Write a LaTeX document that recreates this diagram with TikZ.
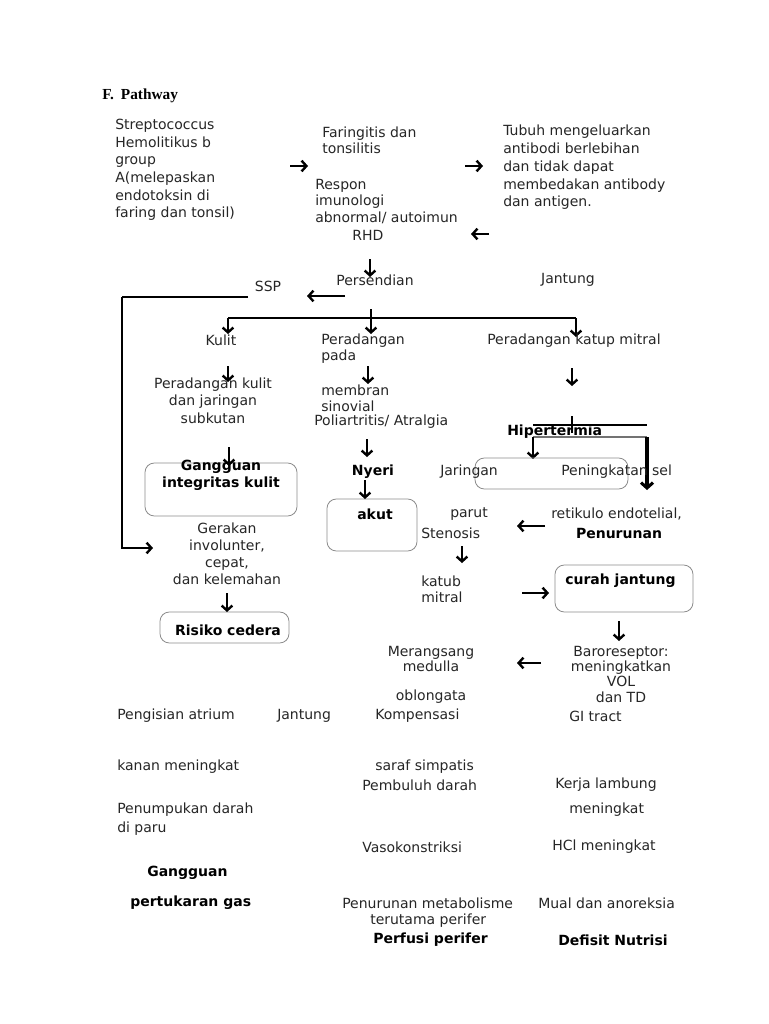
\documentclass[tikz,border=0pt]{standalone}
\usepackage{fontspec}
\setmainfont{DejaVu Sans}
\newfontfamily\titlefont{Liberation Serif}
\usetikzlibrary{arrows.meta}
\begin{document}
\begin{tikzpicture}[x=0.75pt,y=-0.75pt,
  txt/.style={inner sep=0pt, font=\fontsize{10.5}{13}\selectfont, text=black!85},
  lsp/.style={font=\fontsize{10.5}{#1}\selectfont},
  bld/.style={inner sep=0pt, text=black, font=\fontsize{10.5}{#1}\selectfont\bfseries},
  bld/.default=13,
  arr/.style={line width=1.8pt, -{Straight Barb[length=3.6pt,width=8pt]}},
  thk/.style={line width=2pt},
  rbox/.style={draw=black!45, line width=0.6pt, rounded corners=7pt, inner sep=0pt}
]
\useasboundingbox[fill=white] (0,0) rectangle (768,1024);

% title
\node[inner sep=0pt, anchor=west, font=\fontsize{11.5}{14}\selectfont\titlefont\bfseries] (title) at (102,96) {F.\hspace{0.45em}Pathway};

% top row
\node[txt, lsp=13.2, align=left, anchor=west] (strep) at (115,170) {Streptococcus\\Hemolitikus b\\group\\A(melepaskan\\endotoksin di\\faring dan tonsil)};
\node[txt, lsp=12, align=left, anchor=west] (far) at (322,140) {Faringitis dan\\tonsilitis};
\node[txt, lsp=13.3, align=left, anchor=west] (tubuh) at (503,167.5) {Tubuh mengeluarkan\\antibodi berlebihan\\dan tidak dapat\\membedakan antibody\\dan antigen.};
\node[txt, lsp=12.4, align=left, anchor=west] (respon) at (315,201.5) {Respon\\imunologi\\abnormal/ autoimun};
\node[txt] (rhd) at (368,235) {RHD};

\coordinate (a1s) at (290,166); \coordinate (a1e) at (308,166);
\draw[arr] (a1s) -- (a1e);
\coordinate (a2s) at (465,166); \coordinate (a2e) at (483,166);
\draw[arr] (a2s) -- (a2e);
\coordinate (a3s) at (489,234); \coordinate (a3e) at (471,234);
\draw[arr] (a3s) -- (a3e);

% second level
\node[txt] (pers) at (375,280) {Persendian};
\node[txt] (jant1) at (568,280) {Jantung};
\node[txt] (ssp) at (268,286) {SSP};
\coordinate (a4s) at (370,259); \coordinate (a4e) at (370,277);
\draw[arr] (a4s) -- (a4e);
\coordinate (a5s) at (345,296); \coordinate (a5e) at (307,296);
\draw[arr] (a5s) -- (a5e);

% SSP long line
\coordinate (s1) at (248,297); \coordinate (s2) at (122,297);
\coordinate (s3) at (122,548); \coordinate (s4) at (153,548);
\draw[line width=2.2pt] (s1) -- (s2);
\draw[line width=2.2pt] (s2) -- (s3) -- ++(8,0);
\draw[arr] (122,548) -- (s4);

% branch
\coordinate (bl) at (228,318); \coordinate (br) at (576,318);
\coordinate (bm) at (371,309);
\draw[thk] (bl) -- (br);
\draw[arr] (bm) -- (371,334);
\draw[arr] (bl) -- (228,334);
\draw[arr] (br) -- (576,337);

\node[txt] (kulit) at (221,340) {Kulit};
\node[txt, lsp=12, align=left, anchor=west] (pp) at (321,349) {Peradangan\\pada};
\node[txt, anchor=west] (pkm) at (487,341) {Peradangan katup mitral};

\draw[arr] (228,366) -- (228,382);
\draw[arr] (368,366) -- (368,384);
\draw[arr] (572,368) -- (572,386);

\node[txt, lsp=13.1, align=center] (pk) at (213,400.5) {Peradangan kulit\\dan jaringan\\subkutan};
\node[txt, lsp=12, align=left, anchor=west] (mem) at (321,398) {membran\\sinovial};
\node[txt, anchor=west] (poli) at (314,422) {Poliartritis/ Atralgia};

% Hipertermia
\node[bld, anchor=west] (hip) at (507,432) {Hipertermia};
\draw[line width=1.3pt] (533,425) -- (647,425);
\draw[line width=1pt] (572,416) -- (572,433);
\draw[line width=1.6pt, black!55] (533,437) -- (647,437);
\draw[arr] (533,437) -- (533,459);
\draw[line width=2.3pt, -{Straight Barb[length=4pt,width=9pt]}] (647,437) -- (647,490);

% boxes
\node[rbox, minimum width=152*0.75pt, minimum height=53*0.75pt] (bgi) at (221,489.5) {};
\node[rbox, minimum width=90*0.75pt, minimum height=52*0.75pt] (bak) at (372,525) {};
\node[rbox, minimum width=153*0.75pt, minimum height=31*0.75pt] (bjr) at (551.5,473.5) {};
\node[rbox, minimum width=129*0.75pt, minimum height=31*0.75pt] (brc) at (224.5,627.5) {};
\node[rbox, minimum width=138*0.75pt, minimum height=47*0.75pt] (bcj) at (624,588.5) {};

\draw[arr] (229,447) -- (229,466);
\node[bld=12.75, align=center] (ggi) at (221,475.5) {Gangguan\\integritas kulit};

\draw[arr] (367,439) -- (367,457);
\node[bld] (nyeri) at (373,472) {Nyeri};
\draw[arr] (365,480) -- (365,499);
\node[bld] (akut) at (375,514) {akut};

\node[txt, anchor=west] (jar) at (440,472) {Jaringan};
\node[txt, anchor=west] (pen) at (561,472) {Peningkatan sel};

\node[txt, anchor=west] (parut) at (450,514) {parut};
\node[txt, anchor=west] (sten) at (421,533) {Stenosis};
\node[txt, anchor=west] (ret) at (551,514) {retikulo endotelial,};
\node[bld] (penur) at (619,533) {Penurunan};
\draw[arr] (545,526) -- (517,526);

\draw[arr] (462,546) -- (462,563);
\node[txt, lsp=12, align=left, anchor=west] (katub) at (421,589) {katub\\mitral};
\draw[arr] (522,593) -- (549,593);
\node[bld, anchor=west] (curah) at (565,581) {curah jantung};
\draw[arr] (619,621) -- (619,641);

\node[txt, lsp=12.75, align=center] (ger) at (227,553.5) {Gerakan\\involunter,\\cepat,\\dan kelemahan};
\draw[arr] (227,593) -- (227,612);
\node[bld] (ris) at (228,630) {Risiko cedera};

\node[txt, lsp=11.25, align=center] (mer) at (431,658.5) {Merangsang\\medulla};
\node[txt] (obl) at (431,697) {oblongata};
\draw[arr] (541,663) -- (517,663);
\node[txt, lsp=11.5, align=center] (baro) at (621,674) {Baroreseptor:\\meningkatkan\\VOL\\dan TD};

% bottom section
\node[txt, anchor=west] (peng) at (117,716) {Pengisian atrium};
\node[txt, anchor=west] (jant2) at (277,716) {Jantung};
\node[txt, anchor=west] (komp) at (375,716) {Kompensasi};
\node[txt, anchor=west] (gi) at (569,716) {GI tract};
\node[txt, anchor=west] (kanan) at (117,767) {kanan meningkat};
\node[txt, anchor=west] (saraf) at (375,767) {saraf simpatis};
\node[txt, anchor=west] (pemb) at (362,785) {Pembuluh darah};
\node[txt, anchor=west] (kerja) at (555,785) {Kerja lambung};
\node[txt, lsp=14.25, align=left, anchor=west] (penum) at (117,819.5) {Penumpukan darah\\di paru};
\node[txt, anchor=west] (mening) at (569,810) {meningkat};
\node[txt, anchor=west] (vaso) at (362,847) {Vasokonstriksi};
\node[txt, anchor=west] (hcl) at (552,847) {HCl meningkat};
\node[bld, anchor=west] (gg) at (147,873) {Gangguan};
\node[bld, anchor=west] (ptg) at (130,903) {pertukaran gas};
\node[txt, anchor=west] (penme) at (342,903) {Penurunan metabolisme};
\node[txt, anchor=west] (mual) at (538,903) {Mual dan anoreksia};
\node[txt, anchor=west] (terut) at (370,921) {terutama perifer};
\node[bld, anchor=west] (perf) at (373,940) {Perfusi perifer};
\node[bld, anchor=west] (def) at (558,940) {Defisit Nutrisi};
\end{tikzpicture}
\end{document}
